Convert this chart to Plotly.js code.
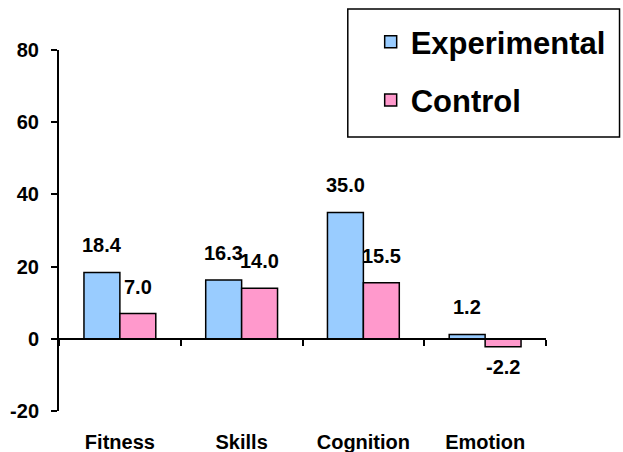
<!DOCTYPE html>
<html>
<head>
<meta charset="utf-8">
<script src="https://cdn.plot.ly/plotly-3.0.1.min.js"></script>
<style>html,body{margin:0;padding:0;background:#fff;}#chart{width:623px;height:452px;}</style>
</head>
<body>
<div id="chart"></div>
<script>
const categories = ["Fitness", "Skills", "Cognition", "Emotion"];
const experimental = [18.4, 16.3, 35.0, 1.2];
const control = [7.0, 14.0, 15.5, -2.2];
const seriesNames = ["Experimental", "Control"];
const yTicks = [-20, 0, 20, 40, 60, 80];
const yTickLabels = ["-20", "0", "20", "40", "60", "80"];

const FONT = "Liberation Sans, Arial, Helvetica, sans-serif";
const BAR_W_PX = 36;

const traces = [
  {
    type: "bar", name: seriesNames[0], x: categories, y: experimental,
    marker: {color: "#99CCFF", line: {color: "#000", width: 1.5}},
    legendgroup: "a", hoverinfo: "skip"
  },
  {
    type: "bar", name: seriesNames[1], x: categories, y: control,
    marker: {color: "#FF99CC", line: {color: "#000", width: 1.5}},
    legendgroup: "b", hoverinfo: "skip"
  },
  {
    type: "scatter", mode: "markers", x: categories, y: experimental,
    xaxis: "x2", yaxis: "y", marker: {opacity: 0}, showlegend: false, hoverinfo: "skip"
  }
];

const annotations = [];
function addLabels(vals, shift) {
  vals.forEach((v, i) => {
    annotations.push({
      x: categories[i], y: v, xref: "x", yref: "y",
      text: v < 0 ? "-" + Math.abs(v).toFixed(1) : v.toFixed(1), showarrow: false,
      xshift: shift,
      yanchor: v >= 0 ? "bottom" : "top",
      yshift: v >= 0 ? 14 : -7,
      font: {family: FONT, size: 20, color: "#000", weight: 700}
    });
  });
}
addLabels(experimental, -BAR_W_PX / 2);
addLabels(control, BAR_W_PX / 2);

const layout = {
  width: 623, height: 452,
  margin: {l: 59, r: 75, t: 50, b: 41, pad: 0},
  paper_bgcolor: "#fff", plot_bgcolor: "#fff",
  font: {family: FONT, color: "#000", weight: 700},
  barmode: "group", bargap: 0.41, bargroupgap: 0,
  showlegend: true,
  legend: {
    x: 0.640, y: 1.097, xanchor: "left", yanchor: "top",
    borderwidth: 0, bgcolor: "rgba(0,0,0,0)",
    font: {family: FONT, size: 31, color: "#000", weight: 700},
    traceorder: "grouped", tracegroupgap: 15
  },
  shapes: [{
    type: "rect", xref: "paper", yref: "paper",
    x0: 0.593, x1: 1.151, y0: 0.759, y1: 1.1136,
    line: {color: "#000", width: 1.5}, fillcolor: "#fff", layer: "below"
  }],
  xaxis: {
    type: "category", range: [-0.5, 3.5], fixedrange: true,
    showline: false, showgrid: false, zeroline: false, ticks: "",
    ticklabelstandoff: 17,
    tickfont: {family: FONT, size: 20, color: "#000", weight: 700}
  },
  xaxis2: {
    type: "category", overlaying: "x", anchor: "free", position: 0.2,
    range: [-0.5, 3.5], fixedrange: true, showgrid: false, zeroline: false,
    showline: true, linecolor: "#000", linewidth: 2,
    ticks: "outside", tickson: "boundaries", ticklen: 6, tickwidth: 2, tickcolor: "#000",
    showticklabels: false
  },
  yaxis: {
    range: [-20, 80], tickvals: yTicks, ticktext: yTickLabels, fixedrange: true,
    showline: true, linecolor: "#000", linewidth: 2,
    ticks: "outside", ticklen: 6, tickwidth: 2, tickcolor: "#000",
    showgrid: false, zeroline: false,
    ticklabelstandoff: 8,
    tickfont: {family: FONT, size: 20, color: "#000", weight: 700}
  },
  annotations: annotations
};

Plotly.newPlot("chart", traces, layout, {displayModeBar: false, staticPlot: true});
</script>
</body>
</html>
